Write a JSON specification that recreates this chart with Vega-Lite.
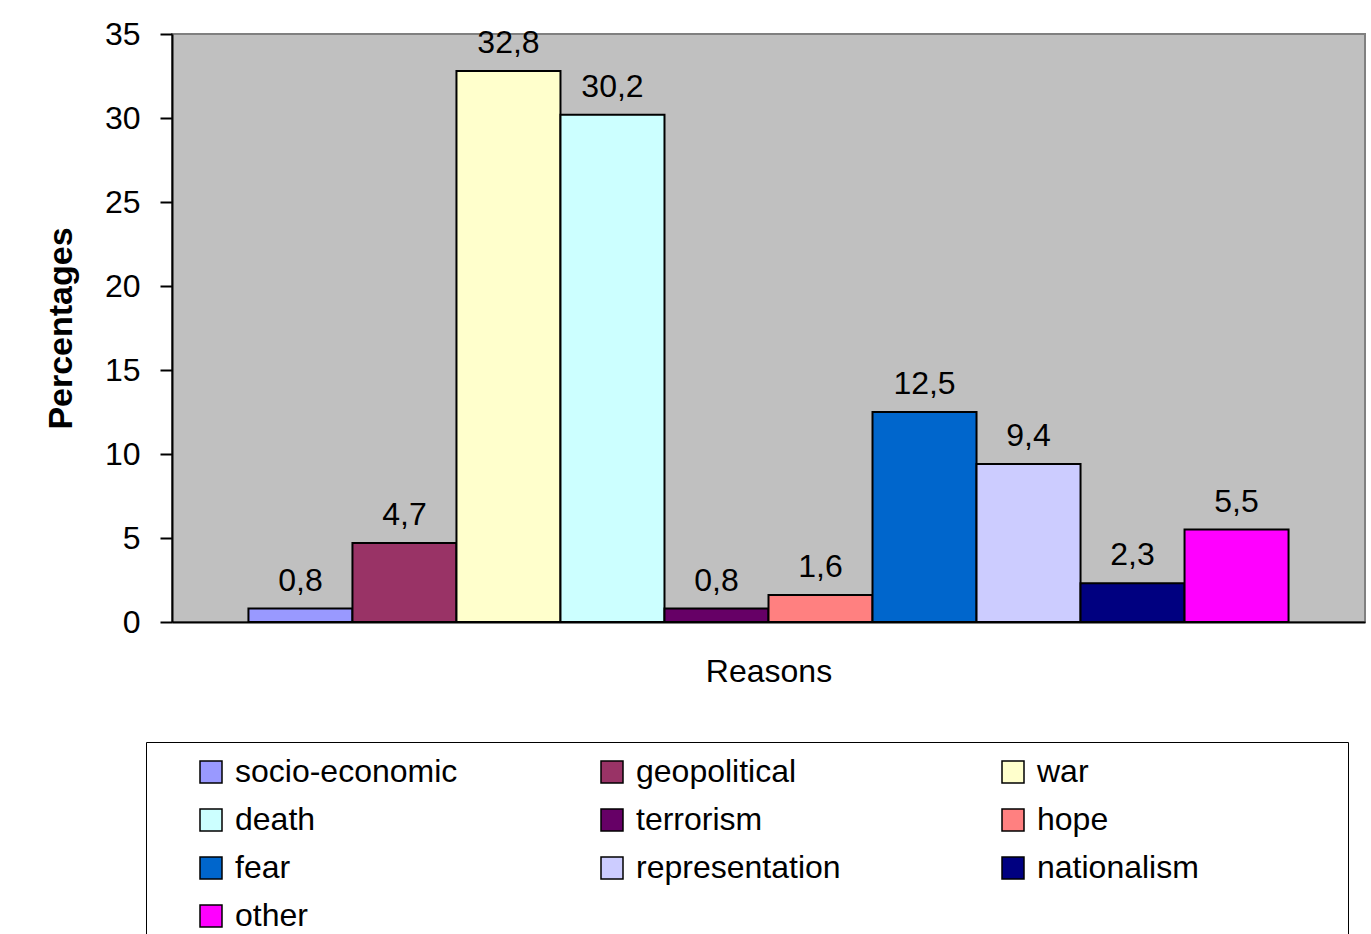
{
  "$schema": "https://vega.github.io/schema/vega-lite/v6.json",
  "width": 1193,
  "height": 588,
  "autosize": {"type": "none"},
  "padding": {"left": 172, "top": 34, "right": 6, "bottom": 312},
  "background": "white",
  "config": {
    "font": "Liberation Sans",
    "locale": {"number": {"decimal": ",", "thousands": ".", "grouping": [3], "currency": ["", " €"]}},
    "view": {"fill": "#C0C0C0", "stroke": "#808080", "strokeWidth": 2}
  },
  "data": {
    "values": [
      {"reason": "socio-economic", "pct": 0.8},
      {"reason": "geopolitical", "pct": 4.7},
      {"reason": "war", "pct": 32.8},
      {"reason": "death", "pct": 30.2},
      {"reason": "terrorism", "pct": 0.8},
      {"reason": "hope", "pct": 1.6},
      {"reason": "fear", "pct": 12.5},
      {"reason": "representation", "pct": 9.4},
      {"reason": "nationalism", "pct": 2.3},
      {"reason": "other", "pct": 5.5}
    ]
  },
  "encoding": {
    "x": {
      "field": "reason",
      "type": "nominal",
      "sort": null,
      "scale": {"paddingInner": 0, "paddingOuter": 0.735},
      "axis": {
        "labels": false,
        "ticks": false,
        "domainColor": "black",
        "domainWidth": 2,
        "title": "Reasons",
        "titleFontSize": 32,
        "titleFontWeight": "normal",
        "titleColor": "black",
        "titlePadding": 34
      }
    },
    "y": {
      "field": "pct",
      "type": "quantitative",
      "scale": {"domain": [0, 35]},
      "axis": {
        "values": [0, 5, 10, 15, 20, 25, 30, 35],
        "grid": false,
        "labelFontSize": 32,
        "labelColor": "black",
        "labelPadding": 20,
        "tickColor": "black",
        "tickSize": 12,
        "tickWidth": 2,
        "domainColor": "black",
        "domainWidth": 2,
        "title": "Percentages",
        "titleFontSize": 34,
        "titleFontWeight": "bold",
        "titleColor": "black",
        "titlePadding": 26
      }
    }
  },
  "layer": [
    {
      "mark": {"type": "bar", "stroke": "black", "strokeWidth": 2},
      "encoding": {
        "color": {
          "field": "reason",
          "type": "nominal",
          "sort": null,
          "scale": {
            "domain": ["socio-economic", "geopolitical", "war", "death", "terrorism", "hope", "fear", "representation", "nationalism", "other"],
            "range": ["#9999FF", "#993366", "#FFFFCC", "#CCFFFF", "#660066", "#FF8080", "#0066CC", "#CCCCFF", "#000080", "#FF00FF"]
          },
          "legend": {
            "orient": "none",
            "direction": "horizontal",
            "legendX": -26,
            "legendY": 708,
            "columns": 3,
            "gridAlign": "all",
            "title": "\u00a0",
            "titleOrient": "right",
            "titlePadding": 135,
            "titleFontSize": 12,
            "values": ["socio-economic", "geopolitical", "war", "death", "terrorism", "hope", "fear", "representation", "nationalism", "other"],
            "symbolType": "square",
            "symbolSize": 484,
            "symbolStrokeColor": "black",
            "symbolStrokeWidth": 1.5,
            "symbolOpacity": 1,
            "symbolOffset": 35,
            "labelFontSize": 32,
            "labelColor": "black",
            "labelOffset": 8,
            "labelLimit": 500,
            "columnPadding": 103,
            "rowPadding": 16,
            "padding": 14,
            "strokeColor": "black",
            "fillColor": "white"
          }
        }
      }
    },
    {
      "mark": {"type": "text", "fontSize": 32, "dy": -18, "baseline": "alphabetic", "color": "black"},
      "encoding": {
        "text": {"field": "pct", "type": "quantitative", "format": ".1f"}
      }
    }
  ]
}
